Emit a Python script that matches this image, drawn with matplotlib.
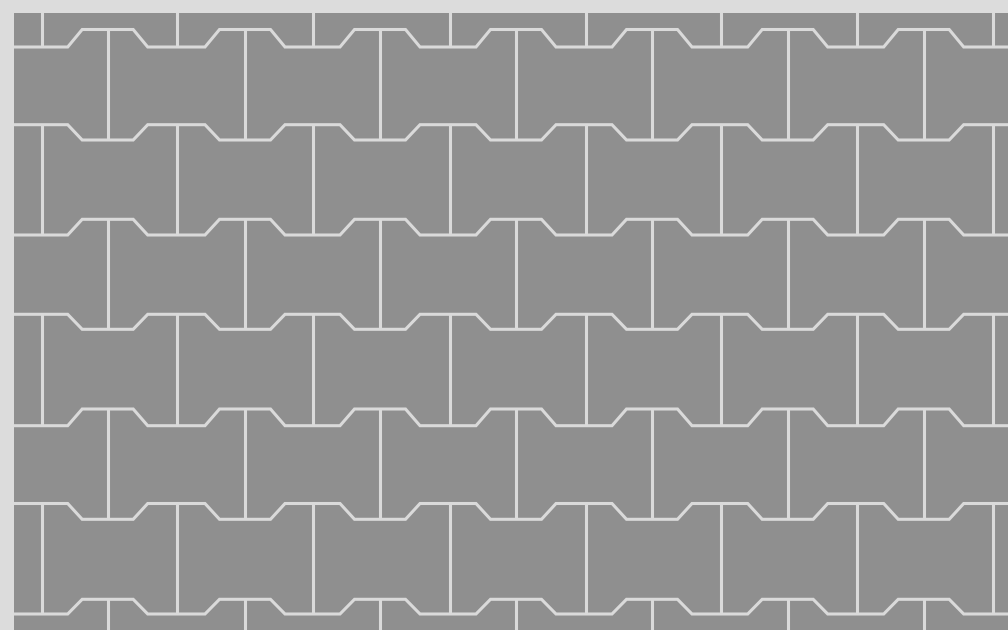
import numpy as np
import matplotlib
matplotlib.use("Agg")
import matplotlib.pyplot as plt

# pattern geometry (pixel units)
joint_hi = [29.5, 124.7, 219.3, 314.3, 409.0, 503.5, 599.3]   # upper level of each joint line
joint_lo = [47.0, 140.0, 235.0, 329.3, 425.7, 519.3, 614.0]   # lower level of each joint line
odd_row_x = [-28.3, 107.7, 245.0, 380.0, 516.0, 652.0, 787.7, 923.7, 1059.7]
even_row_x = [-94.3, 41.7, 177.3, 313.0, 449.5, 585.7, 721.0, 856.7, 993.0, 1129.0]
waist_half = 25.5     # half length of the short flat piece of a joint
slope_dx = 14.5       # horizontal run of the angled piece

fill_color = "#8f8f8f"
joint_color = "#dadada"
border_color = "#dcdcdc"


def joint_line(k):
    """polyline for joint k; even joints bulge up at the notch, odd joints dip down"""
    notch_y = joint_hi[k] if k % 2 == 0 else joint_lo[k]
    wide_y = joint_lo[k] if k % 2 == 0 else joint_hi[k]
    xs, ys = [], []
    for c in odd_row_x:
        xs += [c - waist_half - slope_dx, c - waist_half, c + waist_half, c + waist_half + slope_dx]
        ys += [wide_y, notch_y, notch_y, wide_y]
    return np.array(xs), np.array(ys)


fig = plt.figure(figsize=(10.08, 6.3), dpi=100, facecolor=border_color)
ax = fig.add_axes([14 / 1008, 0, 994 / 1008, 617 / 630])
ax.set_facecolor(fill_color)
ax.set_xlim(14, 1008)
ax.set_ylim(630, 13)
ax.axis("off")
ax.add_patch(plt.Rectangle((14, 13), 994, 617, color=fill_color, zorder=0))

lines = [joint_line(k) for k in range(len(joint_hi))]
for xs, ys in lines:
    ax.plot(xs, ys, color=joint_color, lw=2.2, solid_joinstyle="miter")

# short joints between pavers in each course
n_rows = len(joint_hi) + 1
for r in range(n_rows):
    row_x = odd_row_x if r % 2 == 1 else even_row_x
    for x in row_x:
        if r == 0:
            top = 0
        else:
            top = np.interp(x, *lines[r - 1])
        if r == n_rows - 1:
            bottom = 640
        else:
            bottom = np.interp(x, *lines[r])
        ax.plot([x, x], [top, bottom], color=joint_color, lw=2.2, solid_capstyle="butt")

fig.savefig("out.png", dpi=100, facecolor=border_color)
